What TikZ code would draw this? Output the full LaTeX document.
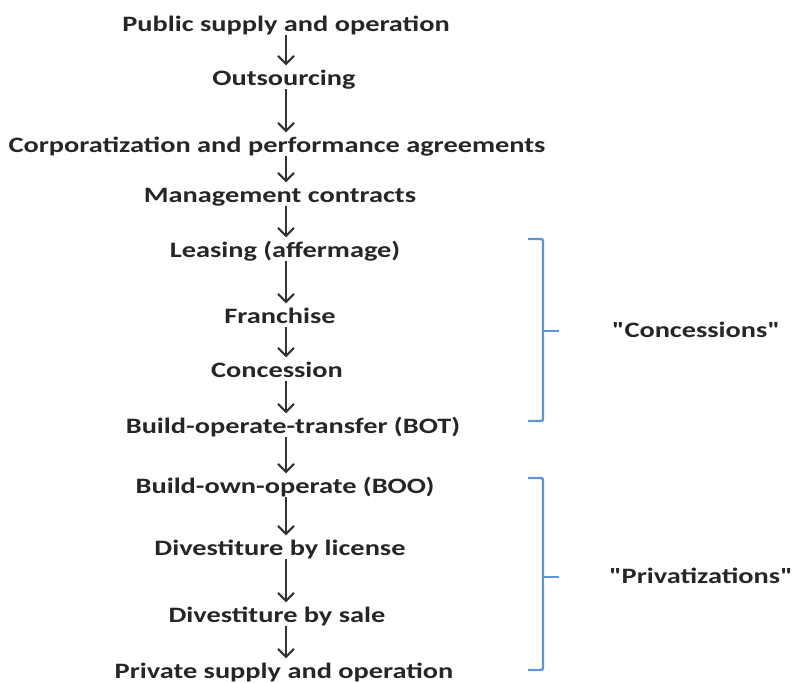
\documentclass[tikz,border=0pt]{standalone}
\usepackage{fontspec}
\usepackage{graphicx}
\setmainfont{Carlito}
\newfontfamily\qfont{Carlito}
\usetikzlibrary{arrows.meta}
\definecolor{brk}{RGB}{98,148,212}
\newlength\refw
\newcommand\lblfont{\fontsize{22}{26}\selectfont\bfseries}
\newcommand\sx[1]{\scalebox{\xsc}[1]{#1}}
\newcommand\dq{{\qfont\bfseries"}}
\begin{document}
\begin{tikzpicture}[x=1pt,y=-1pt,
  txt/.style={font=\lblfont, inner sep=0pt, text=black!85, text height=17pt, text depth=4pt, anchor=base},
  arr/.style={-{Straight Barb[length=8pt,width=16pt]}, line width=2.1pt, black!80, shorten <=0pt, shorten >=2.5pt},
  brace/.style={brk, line width=2.4pt, rounded corners=2pt}]
\pgfinterruptpicture\settowidth\refw{\lblfont Corporatization and performance agreements}\global\refw=\refw\endpgfinterruptpicture
\pgfmathsetmacro\xsc{537/\refw}
\useasboundingbox (0,0) rectangle (793,683);
\node[txt] (n1)  at (286,31)  {\sx{Public supply and operation}};
\node[txt] (n2)  at (284,85)  {\sx{Outsourcing}};
\node[txt] (n3)  at (277,152) {\sx{Corporatization and performance agreements}};
\node[txt] (n4)  at (280,202) {\sx{Management contracts}};
\node[txt] (n5)  at (285,257) {\sx{Leasing (affermage)}};
\node[txt] (n6)  at (280,323) {\sx{Franchise}};
\node[txt] (n7)  at (277,377) {\sx{Concession}};
\node[txt] (n8)  at (293,433) {\sx{Build-operate-transfer (BOT)}};
\node[txt] (n9)  at (285,493) {\sx{Build-own-operate (BOO)}};
\node[txt] (n10) at (280,555) {\sx{Divestiture by license}};
\node[txt] (n11) at (277,622) {\sx{Divestiture by sale}};
\node[txt] (n12) at (284,678) {\sx{Private supply and operation}};
\coordinate (ax) at (286,0);
\foreach \a/\b in {n1/n2,n2/n3,n3/n4,n4/n5,n5/n6,n6/n7,n7/n8,n8/n9,n9/n10,n10/n11,n11/n12}
  \draw[arr] (\a.south -| ax) -- (\b.north -| ax);
% brackets
\coordinate (c1t) at (528,239);
\coordinate (c1b) at (528,421);
\coordinate (c1m) at (559,331);
\coordinate (p1t) at (528,478);
\coordinate (p1b) at (528,670);
\coordinate (p1m) at (559,577);
\draw[brace] (c1t) -- (543,239) -- (543,421) -- (c1b);
\draw[brace] (543,331) -- (c1m);
\draw[brace] (p1t) -- (543,478) -- (543,670) -- (p1b);
\draw[brace] (543,577) -- (p1m);
\node[txt] (lc) at (696,337) {\sx{\dq Concessions\dq}};
\node[txt] (lp) at (701,583) {\sx{\dq Privatizations\dq}};
\end{tikzpicture}
\end{document}
